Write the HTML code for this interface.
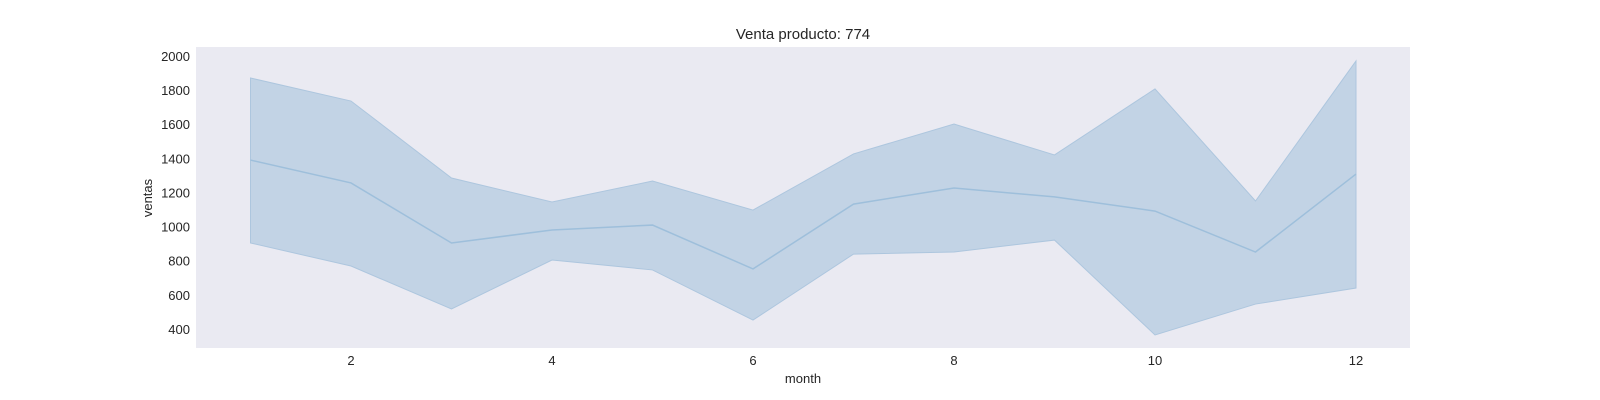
<!DOCTYPE html>
<html><head><meta charset="utf-8"><style>
html,body{margin:0;padding:0;background:#fff;width:1600px;height:400px;overflow:hidden}
svg text{font-family:"Liberation Sans",sans-serif;fill:#262626}
</style></head><body>
<svg id="chart" width="1600" height="400" xmlns="http://www.w3.org/2000/svg">
<rect x="196" y="47" width="1214" height="301" fill="#eaeaf2"/>
<text x="803" y="39" font-size="15" text-anchor="middle">Venta producto: 774</text>
<text x="803" y="383" font-size="13" text-anchor="middle">month</text>
<text transform="translate(152,198) rotate(-90)" font-size="13" text-anchor="middle">ventas</text>
<g id="layer"></g>
</svg>
<script>
const months=[1,2,3,4,5,6,7,8,9,10,11,12];
const meanVals=[1390,1256,904,980,1009,752,1132,1226,1174,1091,851,1308];
const upperVals=[1871,1736,1285,1144,1267,1097,1426,1601,1420,1807,1150,1971];
const lowerVals=[904,769,517,804,746,452,839,851,921,365,546,640];
const xTicks=[2,4,6,8,10,12];
const yTicks=[400,600,800,1000,1200,1400,1600,1800,2000];
const NS="http://www.w3.org/2000/svg";
const X=m=>250.5+(m-1)*100.5;
const Y=v=>56+(2000-v)*0.1706;
const g=document.getElementById('layer');
function mk(t,a){const e=document.createElementNS(NS,t);for(const k in a)e.setAttribute(k,a[k]);g.appendChild(e);return e;}
let d=months.map((m,i)=>(i?'L':'M')+X(m)+','+Y(upperVals[i])).join('');
for(let i=months.length-1;i>=0;i--)d+='L'+X(months[i])+','+Y(lowerVals[i]);
const band=mk('path',{d:d+'Z',fill:'#c2d3e5',stroke:'#adc6de','stroke-width':1});


const line=mk('path',{d:months.map((m,i)=>(i?'L':'M')+X(m)+','+Y(meanVals[i])).join(''),fill:'none',stroke:'#9ebfdb','stroke-width':1.5});


xTicks.forEach(t=>{const e=mk('text',{x:X(t),y:365,'font-size':13,'text-anchor':'middle'});e.textContent=t;

});
yTicks.forEach(t=>{const e=mk('text',{x:190,y:Y(t)+5,'font-size':13,'text-anchor':'end'});e.textContent=t;

});
</script>
</body></html>
